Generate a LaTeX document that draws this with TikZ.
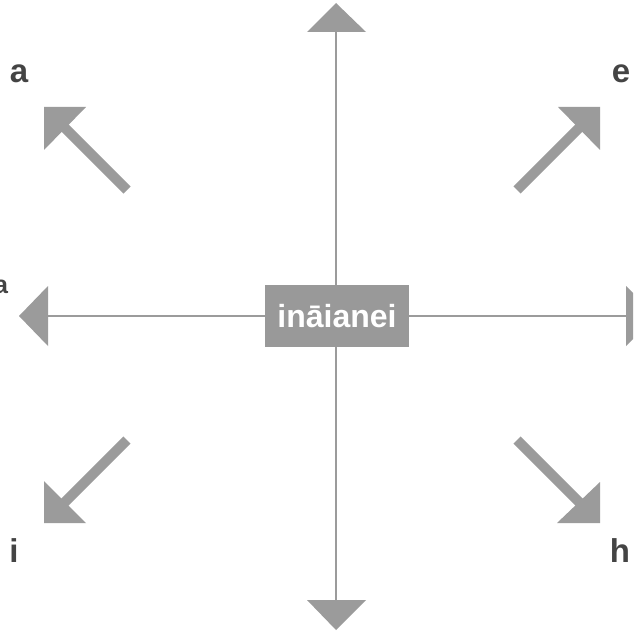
\documentclass[tikz,border=0pt]{standalone}
\usepackage{fontspec}
\setmainfont{Liberation Sans}
\definecolor{arrowgray}{HTML}{9B9B9B}
\definecolor{boxgray}{HTML}{999999}
\definecolor{labelgray}{HTML}{444444}
\begin{document}
\begin{tikzpicture}[x=0.75pt,y=-0.75pt,
  axis/.style={draw=arrowgray,line width=1.5pt},
  shaft/.style={draw=arrowgray,line width=7.5pt},
  headfill/.style={fill=arrowgray},
  lab/.style={text=labelgray,font=\fontsize{24.75pt}{26pt}\selectfont\bfseries,inner sep=0pt,anchor=base},
  smalllab/.style={text=labelgray,font=\fontsize{18.8pt}{20pt}\selectfont\bfseries,inner sep=0pt,anchor=base},
  centerbox/.style={fill=boxgray,text=white,font=\fontsize{24pt}{26pt}\selectfont\bfseries,minimum width=108pt,minimum height=46.5pt,inner sep=0pt}]
\useasboundingbox (0,0) rectangle (633,634);
\clip (0,0) rectangle (633,634);
% center box
\node[centerbox] (c) at (337,316) {ināianei};
% axis end coordinates (arrowhead bases)
\coordinate (nB) at (336,32);
\coordinate (sB) at (336,600);
\coordinate (wB) at (48,316);
\coordinate (eB) at (626,316);
\draw[axis] (c.north -| nB) -- (nB);
\draw[axis] (c.south -| sB) -- (sB);
\draw[axis] (c.west |- wB) -- (wB);
\draw[axis] (c.east |- eB) -- (eB);
\fill[headfill] (307,32) -- (336,3) -- (366,32) -- cycle;
\fill[headfill] (307,600) -- (336,630) -- (366,600) -- cycle;
\fill[headfill] (48,286) -- (19,316) -- (48,346) -- cycle;
\fill[headfill] (626,286) -- (656,316) -- (626,346) -- cycle;
% diagonal arrows
\coordinate (tlT) at (127,190); \coordinate (tlE) at (64,127);
\coordinate (trT) at (517,190); \coordinate (trE) at (580,127);
\coordinate (blT) at (127,440); \coordinate (blE) at (64,503);
\coordinate (brT) at (517,440); \coordinate (brE) at (580,503);
\draw[shaft] (tlT) -- (tlE);
\draw[shaft] (trT) -- (trE);
\draw[shaft] (blT) -- (blE);
\draw[shaft] (brT) -- (brE);
\fill[headfill] (44,107) -- (86,107) -- (44,150) -- cycle;
\fill[headfill] (600,107) -- (558,107) -- (600,150) -- cycle;
\fill[headfill] (44,523) -- (44,481) -- (86,523) -- cycle;
\fill[headfill] (600,523) -- (600,482) -- (557,523) -- cycle;
% labels
\node[lab] (la) at (19,83) {a};
\node[lab] (le) at (621,83) {e};
\node[lab] (li) at (14,562) {i};
\node[lab] (lh) at (620,562) {h};
\node[smalllab] (lw) at (1,293) {a};
\end{tikzpicture}
\end{document}
